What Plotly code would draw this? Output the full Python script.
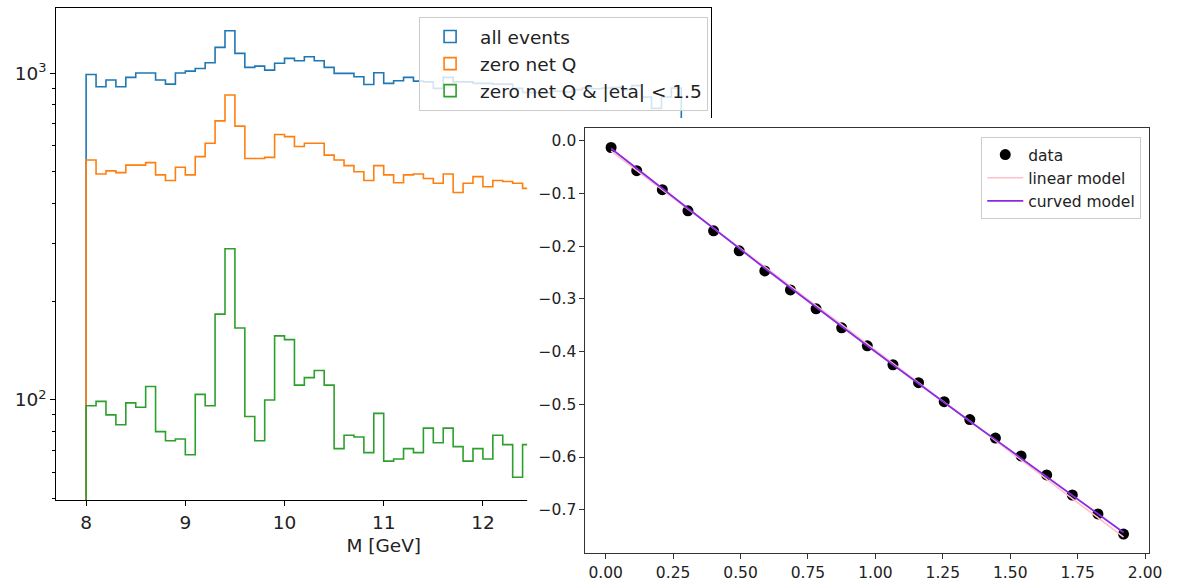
import numpy as np
import plotly.graph_objects as go

# ---------------- data ----------------
# Histogram: 60 bins of invariant mass M [GeV] from 8 to 14
m_min, m_max, n_bins = 8.0, 14.0, 60

all_events = [990, 908, 952, 908, 970, 1000, 1000, 952, 925, 1000,
              1014, 1033, 1075, 1198, 1347, 1149, 1041, 1050, 1021, 1071,
              1109, 1090, 1122, 1090, 1041, 998, 998, 974, 923, 1002,
              930, 947, 970, 945, 940, 898, 970, 940, 940, 930,
              930, 925, 925, 898, 872, 872, 870, 880, 875, 890,
              900, 895, 900, 905, 890, 915, 845, 780, 845, 900]

zero_net_q = [542, 491, 502, 496, 523, 523, 532, 488, 469, 515,
              488, 555, 610, 714, 857, 688, 548, 548, 552, 649,
              639, 596, 610, 610, 561, 542, 521, 499, 469, 521,
              488, 462, 488, 491, 476, 460, 491, 431, 460, 482,
              449, 469, 466, 460, 444, 455, 470, 440, 450, 430,
              445, 460, 425, 440, 450, 430, 420, 445, 430, 415]

zero_net_q_eta = [96, 99, 90, 84, 98, 95, 110, 80, 75, 76,
                  68, 104, 96, 183, 290, 166, 89, 75, 100, 157,
                  153, 111, 117, 123, 111, 71, 78, 77, 69, 91,
                  65, 66, 71, 69, 82, 74, 82, 72, 65, 71,
                  66, 78, 73, 58, 73, 70, 66, 74, 62, 68,
                  72, 64, 60, 70, 66, 63, 68, 58, 65, 62]

hist_names = ["all events", "zero net Q", "zero net Q & |eta| < 1.5"]

# Inset: data points and two models
x_data = [0.02, 0.115, 0.21, 0.305, 0.40, 0.495, 0.59, 0.685, 0.78, 0.875,
          0.97, 1.065, 1.16, 1.255, 1.35, 1.445, 1.54, 1.635, 1.73, 1.825, 1.92]
y_data = [-0.013, -0.057, -0.093, -0.133, -0.171, -0.209, -0.247, -0.283,
          -0.319, -0.355, -0.389, -0.425, -0.459, -0.495, -0.529, -0.564,
          -0.598, -0.634, -0.672, -0.708, -0.746]
y_linear = [-0.020, -0.057, -0.093, -0.130, -0.166, -0.203, -0.240, -0.276,
            -0.313, -0.349, -0.386, -0.423, -0.459, -0.496, -0.532, -0.569,
            -0.606, -0.642, -0.679, -0.715, -0.752]
y_curved = [-0.015, -0.053, -0.091, -0.129, -0.167, -0.205, -0.242, -0.279,
            -0.316, -0.353, -0.389, -0.425, -0.461, -0.497, -0.532, -0.567,
            -0.602, -0.637, -0.672, -0.707, -0.743]

# ---------------- layout helpers ----------------
W, H = 1177, 583
def px_x(p):
    return min(1.0, p / W)
def px_y(p):
    return (H - p) / H

FONT = "DejaVu Sans"
colors = ["#1f77b4", "#ff7f0e", "#2ca02c"]
F_LEFT = 18.5
F_RIGHT = 15.5

edges = np.linspace(m_min, m_max, n_bins + 1)
floor_val = 1.0  # below the visible log range -> vertical drop to the axis bottom

fig = go.Figure()

# step histograms
for counts, name, col in zip([all_events, zero_net_q, zero_net_q_eta], hist_names, colors):
    xs = [edges[0]] + list(edges[:-1]) + [edges[-1], edges[-1]]
    ys = [floor_val] + list(counts) + [counts[-1], floor_val]
    fig.add_trace(go.Scatter(x=xs, y=ys, mode="lines", line=dict(color=col, width=1.6, shape="hv"),
                             showlegend=False, hoverinfo="skip", xaxis="x", yaxis="y"))

# legend entries (box patches) for the histograms
for name, col in zip(hist_names, colors):
    fig.add_trace(go.Bar(x=[None], y=[None], name=name, marker=dict(color="rgba(0,0,0,0)",
                         line=dict(color=col, width=1.6)), legend="legend", legendgroup=name,
                         xaxis="x", yaxis="y"))

# white cover panel for the inset (own subplot so it sits above the histogram)
fig.add_trace(go.Scatter(x=[None], y=[None], mode="markers", showlegend=False,
                         hoverinfo="skip", xaxis="x2", yaxis="y2"))

# inset traces
fig.add_trace(go.Scatter(x=x_data, y=y_data, mode="markers", name="data",
                         marker=dict(color="black", size=11), xaxis="x3", yaxis="y3",
                         legend="legend2", legendgroup="d"))
fig.add_trace(go.Scatter(x=x_data, y=y_linear, mode="lines", name="linear model",
                         line=dict(color="pink", width=1.6), xaxis="x3", yaxis="y3",
                         legend="legend2", legendgroup="l"))
fig.add_trace(go.Scatter(x=x_data, y=y_curved, mode="lines", name="curved model",
                         line=dict(color="blueviolet", width=1.8), xaxis="x3", yaxis="y3",
                         legend="legend2", legendgroup="c"))

minor_vals = [50, 60, 70, 80, 90, 200, 300, 400, 500, 600, 700, 800, 900]

fig.update_layout(
    width=W, height=H,
    margin=dict(l=0, r=0, t=0, b=0),
    paper_bgcolor="white", plot_bgcolor="white",
    font=dict(family=FONT, color="#222222"),
    barmode="overlay",
    xaxis=dict(domain=[px_x(57), px_x(719)], range=[7.7, 14.3], anchor="y",
               tick0=8, dtick=1, ticks="outside", ticklen=5, tickcolor="black",
               ticklabelstandoff=1,
               showline=True, linecolor="black", linewidth=1.2, mirror=True,
               showgrid=False, zeroline=False, tickfont=dict(size=F_LEFT, family=FONT),
               title=dict(text="M [GeV]", font=dict(size=F_LEFT, family=FONT), standoff=6)),
    yaxis=dict(domain=[px_y(500), px_y(8)], type="log", range=[1.694, 3.199], anchor="x",
               tickmode="array", tickvals=[100, 1000],
               ticktext=["10<sup>2</sup>", "10<sup>3</sup>"],
               ticks="outside", ticklen=5, tickcolor="black",
               minor=dict(tickmode="array", tickvals=minor_vals, ticks="outside",
                          ticklen=3, tickcolor="black", showgrid=False),
               showline=True, linecolor="black", linewidth=1.2, mirror=True,
               showgrid=False, zeroline=False, tickfont=dict(size=F_LEFT, family=FONT)),
    xaxis2=dict(domain=[px_x(533), 1.0], range=[0, 1], anchor="y2",
                showline=False, showticklabels=False, ticks="", showgrid=False, zeroline=False,
                fixedrange=True),
    yaxis2=dict(domain=[0.0, px_y(118)], range=[0, 1], anchor="x2",
                showline=False, showticklabels=False, ticks="", showgrid=False, zeroline=False,
                fixedrange=True),
    xaxis3=dict(domain=[px_x(592), px_x(1162)], range=[-0.075, 2.015], anchor="y3",
                tickmode="array", tickvals=[0, 0.25, 0.5, 0.75, 1.0, 1.25, 1.5, 1.75, 2.0],
                tickformat=".2f", ticks="outside", ticklen=5, tickcolor="#333333",
                showline=True, linecolor="#333333", linewidth=1.2, mirror=True,
                showgrid=False, zeroline=False, tickfont=dict(size=F_RIGHT, family=FONT)),
    yaxis3=dict(domain=[px_y(553), px_y(128)], range=[-0.782, 0.024], anchor="x3",
                tickmode="array", tickvals=[0, -0.1, -0.2, -0.3, -0.4, -0.5, -0.6, -0.7],
                tickformat=".1f", ticks="outside", ticklen=5, tickcolor="#333333",
                showline=True, linecolor="#333333", linewidth=1.2, mirror=True,
                showgrid=False, zeroline=False, tickfont=dict(size=F_RIGHT, family=FONT)),
    legend=dict(x=px_x(716), xanchor="right", y=px_y(17), yanchor="top",
                bgcolor="rgba(255,255,255,0.8)", bordercolor="#cccccc", borderwidth=1,
                font=dict(size=F_LEFT, family=FONT, color="#222222"),
                itemwidth=50, traceorder="grouped", tracegroupgap=0),
    legend2=dict(x=px_x(1154), xanchor="right", y=px_y(137), yanchor="top",
                 bgcolor="rgba(255,255,255,0.8)", bordercolor="#cccccc", borderwidth=1,
                 font=dict(size=F_RIGHT, family=FONT, color="#222222"),
                 itemwidth=36, traceorder="grouped", tracegroupgap=0),
)

# remove the default page margin so the figure sits at the window origin
page_js = ("document.body.style.margin='0';document.body.style.overflow='hidden';"
           "document.documentElement.style.overflow='hidden';")

fig.write_html("out.html", config={"displayModeBar": False}, post_script=page_js)
